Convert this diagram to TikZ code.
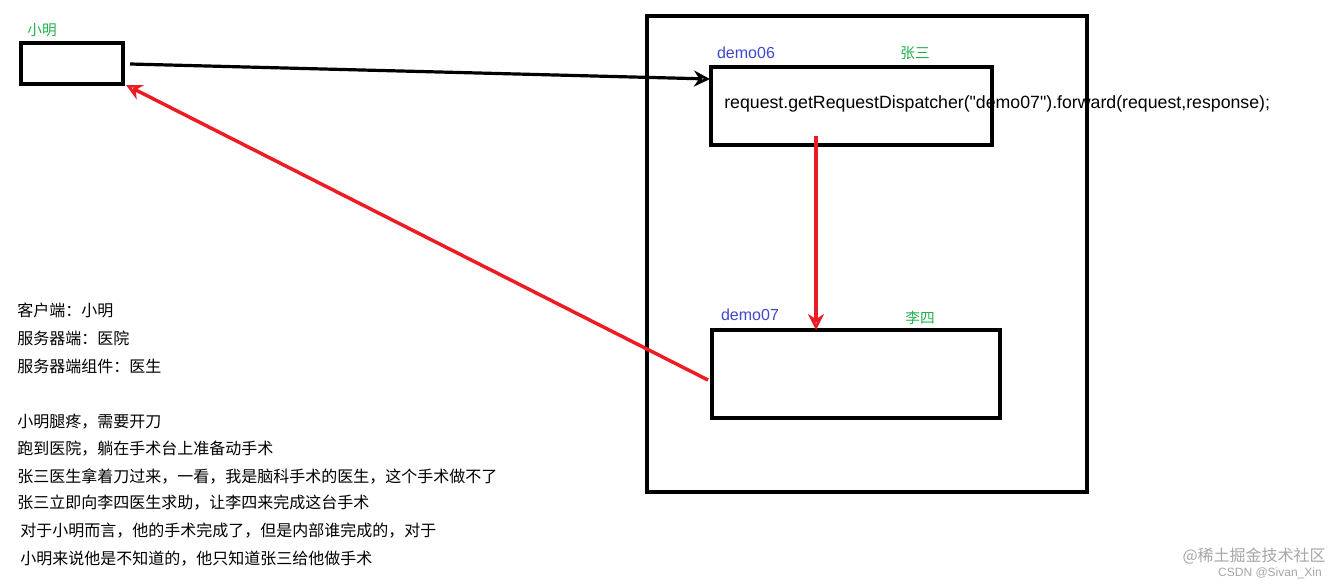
\documentclass[tikz,border=0pt]{standalone}
\usepackage{fontspec}
\setmainfont{Liberation Sans}
\newfontfamily\lib{Liberation Sans}
\newfontfamily\cjk{Noto Sans CJK SC}
\usetikzlibrary{arrows.meta}
\definecolor{gr}{RGB}{34,177,76}
\definecolor{bl}{RGB}{63,72,204}
\definecolor{rd}{RGB}{237,28,36}
\begin{document}
\begin{tikzpicture}[x=0.75pt,y=-0.75pt,
  bx/.style={draw=black,line width=2.4pt},
  lbl/.style={font=\fontsize{12}{14}\selectfont,inner sep=0pt},
  ln/.style={font=\cjk\fontsize{12}{14}\selectfont,anchor=west,inner sep=0pt},
  rarr/.style={draw=rd,line width=2.6pt,-{Stealth[length=12pt,width=12pt,open]}},
  karr/.style={draw=black,line width=2.4pt,-{Stealth[length=12pt,width=12pt,open]}}]
\useasboundingbox[fill=white] (0,0) rectangle (1342,586);
\node[lbl,text=gr,font=\cjk\fontsize{11}{13}\selectfont] (lxm) at (42,30) {小明};
\draw[bx] (21,43) rectangle (123,84);
\coordinate (xmR) at (130,64);
\coordinate (xmC) at (126,85);
\draw[bx] (647,16) rectangle (1087,492);
\draw[bx] (711,67) rectangle (992,145);
\node[lbl,text=bl] (d6) at (746,53) {demo06};
\node[lbl,text=gr,font=\cjk\fontsize{11}{13}\selectfont] (zs) at (915,53) {张三};
\node[anchor=west,inner sep=0pt,font=\lib\fontsize{13.3}{15}\selectfont] (req) at (724,104) {request.getRequestDispatcher("demo07").forward(request,response);};
\draw[bx] (712,330) rectangle (1000,418);
\node[lbl,text=bl] (d7) at (750,315) {demo07};
\node[lbl,text=gr,font=\cjk\fontsize{11}{13}\selectfont] (ls) at (920,318) {李四};
\coordinate (a1) at (710,79);
\draw[karr] (xmR) -- (a1);
\coordinate (r1) at (816,136);
\coordinate (r2) at (816,330);
\draw[rarr] (r1) -- (r2);
\coordinate (r3) at (708,380);
\draw[rarr] (r3) -- (xmC);
\node[ln] (t1) at (17,310) {客户端：小明};
\node[ln] (t2) at (17,338) {服务器端：医院};
\node[ln] (t3) at (17,366) {服务器端组件：医生};
\node[ln] (t4) at (17,422) {小明腿疼，需要开刀};
\node[ln] (t5) at (17,449) {跑到医院，躺在手术台上准备动手术};
\node[ln] (t6) at (17,476) {张三医生拿着刀过来，一看，我是脑科手术的医生，这个手术做不了};
\node[ln] (t7) at (17,503) {张三立即向李四医生求助，让李四来完成这台手术};
\node[ln] (t8) at (20,531) {对于小明而言，他的手术完成了，但是内部谁完成的，对于};
\node[ln] (t9) at (20,559) {小明来说他是不知道的，他只知道张三给他做手术};
\node[anchor=east,inner sep=0pt,text=gray!70,font=\cjk\fontsize{12}{14}\selectfont] (wm) at (1326,556) {@稀土掘金技术社区};
\node[anchor=east,inner sep=0pt,text=gray!70,font=\fontsize{9}{10}\selectfont] (wm2) at (1322,573) {CSDN @Sivan\_Xin};
\end{tikzpicture}
\end{document}
